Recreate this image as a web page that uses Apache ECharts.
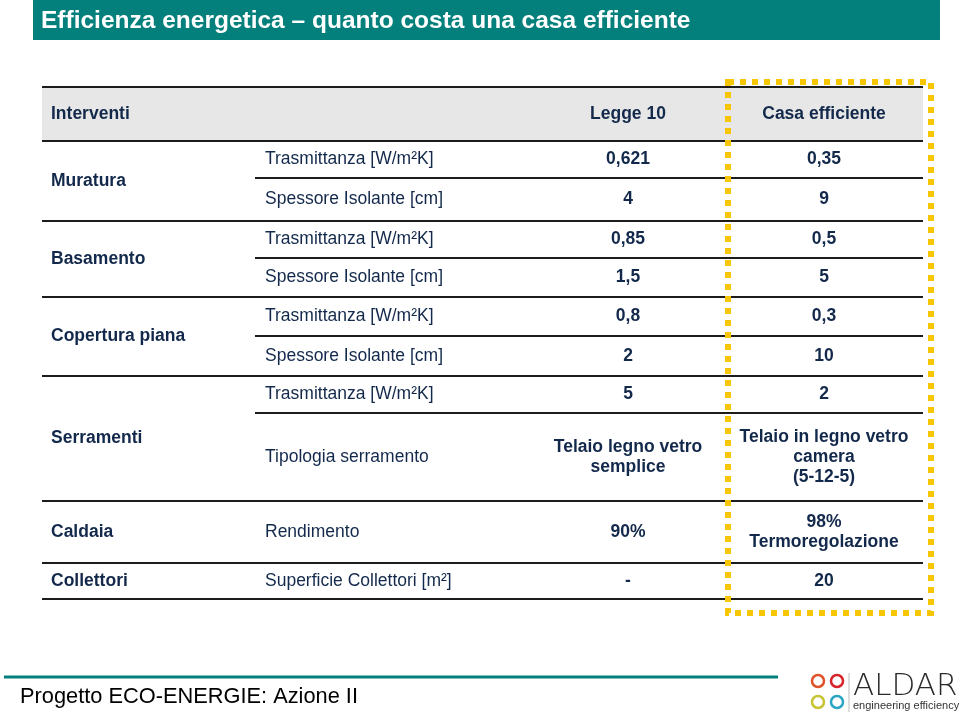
<!DOCTYPE html>
<html><head><meta charset="utf-8">
<script src="https://cdn.jsdelivr.net/npm/echarts@6/dist/echarts.min.js"></script>
<style>html,body{margin:0;padding:0;background:#fff}#c{width:960px;height:714px}</style>
</head><body><div id="c"></div>
<script>
// ---- data ----
const title = 'Efficienza energetica \u2013 quanto costa una casa efficiente';
const headers = ['Interventi', 'Legge 10', 'Casa efficiente'];
const groups = ['Muratura', 'Basamento', 'Copertura piana', 'Serramenti', 'Caldaia', 'Collettori'];
const groupSpan = [2, 2, 2, 2, 1, 1];
const params = [
  'Trasmittanza [W/m\u00B2K]', 'Spessore Isolante [cm]',
  'Trasmittanza [W/m\u00B2K]', 'Spessore Isolante [cm]',
  'Trasmittanza [W/m\u00B2K]', 'Spessore Isolante [cm]',
  'Trasmittanza [W/m\u00B2K]', 'Tipologia serramento',
  'Rendimento', 'Superficie Collettori [m\u00B2]'
];
const legge10 = ['0,621', '4', '0,85', '1,5', '0,8', '2', '5', 'Telaio legno vetro\nsemplice', '90%', '-'];
const casaEfficiente = ['0,35', '9', '0,5', '5', '0,3', '10', '2', 'Telaio in legno vetro\ncamera\n(5-12-5)', '98%\nTermoregolazione', '20'];
const footer = 'Progetto ECO-ENERGIE: Azione II';
const logoName = 'ALDAR';
const logoTag = 'engineering efficiency';

// ---- layout ----
const TEAL = '#03807b', NAVY = '#13294b', LINE = '#1c1c1c';
const X0 = 42, X1 = 923, XSUB = 255;
const colX = {group: 51, param: 265, legge: 628, casa: 824};
const headTop = 87, headBot = 141;
const rowY = [141, 178, 221, 258, 297, 336, 376, 413, 501, 563, 599];
const FS = 17.5, FF = '"Liberation Sans", Arial, sans-serif';

const els = [];
// title bar
els.push({type: 'rect', shape: {x: 33, y: 0, width: 907, height: 40}, style: {fill: TEAL}});
els.push({type: 'text', style: {text: title, x: 41, y: 21, fill: '#fff', fontSize: 24.5, fontWeight: 'bold', fontFamily: FF, textAlign: 'left', textVerticalAlign: 'middle'}});

// header band
els.push({type: 'rect', shape: {x: X0, y: headTop, width: X1 - X0, height: headBot - headTop}, style: {fill: '#e7e7e7'}});
const hy = (headTop + headBot) / 2;
els.push({type: 'text', style: {text: headers[0], x: colX.group, y: hy, fill: NAVY, fontSize: FS, fontWeight: 'bold', fontFamily: FF, textAlign: 'left', textVerticalAlign: 'middle'}});
els.push({type: 'text', style: {text: headers[1], x: colX.legge, y: hy, fill: NAVY, fontSize: FS, fontWeight: 'bold', fontFamily: FF, textAlign: 'center', textVerticalAlign: 'middle'}});
els.push({type: 'text', style: {text: headers[2], x: colX.casa, y: hy, fill: NAVY, fontSize: FS, fontWeight: 'bold', fontFamily: FF, textAlign: 'center', textVerticalAlign: 'middle'}});

function hline(x, y) {
  els.push({type: 'line', shape: {x1: x, y1: y, x2: X1, y2: y}, style: {stroke: LINE, lineWidth: 2}});
}
hline(X0, headTop);
hline(X0, headBot);

// body
let r = 0;
groups.forEach((g, gi) => {
  const span = groupSpan[gi];
  const gTop = rowY[r], gBot = rowY[r + span];
  els.push({type: 'text', style: {text: g, x: colX.group, y: (gTop + gBot) / 2, fill: NAVY, fontSize: FS, fontWeight: 'bold', fontFamily: FF, textAlign: 'left', textVerticalAlign: 'middle'}});
  for (let k = 0; k < span; k++, r++) {
    const yc = (rowY[r] + rowY[r + 1]) / 2;
    els.push({type: 'text', style: {text: params[r], x: colX.param, y: yc, fill: NAVY, fontSize: FS, fontFamily: FF, textAlign: 'left', textVerticalAlign: 'middle'}});
    els.push({type: 'text', style: {text: legge10[r], x: colX.legge, y: yc, fill: NAVY, fontSize: FS, fontWeight: 'bold', lineHeight: 20, fontFamily: FF, textAlign: 'center', textVerticalAlign: 'middle'}});
    els.push({type: 'text', style: {text: casaEfficiente[r], x: colX.casa, y: yc, fill: NAVY, fontSize: FS, fontWeight: 'bold', lineHeight: 20, fontFamily: FF, textAlign: 'center', textVerticalAlign: 'middle'}});
    hline(k === span - 1 ? X0 : XSUB, rowY[r + 1]);
  }
});

// yellow dotted highlight
els.push({type: 'rect', shape: {x: 728, y: 82, width: 203, height: 531}, style: {fill: 'none', stroke: '#f7c600', lineWidth: 6, lineDash: [6, 6], lineCap: 'butt'}, z: 10});

// footer
els.push({type: 'line', shape: {x1: 4, y1: 677, x2: 778, y2: 677}, style: {stroke: TEAL, lineWidth: 3}});
els.push({type: 'text', style: {text: footer, x: 20, y: 697, fill: '#000', fontSize: 21.8, fontFamily: FF, textAlign: 'left', textVerticalAlign: 'middle'}});

// logo
const rings = [[818, 681, '#e0522a'], [837, 681, '#d8232a'], [818, 702, '#c7c433'], [837, 702, '#2aa6c4']];
rings.forEach(([cx, cy, c]) => {
  els.push({type: 'circle', shape: {cx: cx, cy: cy, r: 6}, style: {fill: 'none', stroke: c, lineWidth: 2.5}});
});
els.push({type: 'line', shape: {x1: 849, y1: 673, x2: 849, y2: 712}, style: {stroke: '#bbb', lineWidth: 1}});
els.push({type: 'text', style: {text: logoName, x: 853, y: 687, fill: '#2b2b2b', fontSize: 31, fontWeight: 200, fontFamily: '"DejaVu Sans", sans-serif', textAlign: 'left', textVerticalAlign: 'middle'}});
els.push({type: 'text', style: {text: logoTag, x: 853, y: 706, fill: '#333', fontSize: 11, fontFamily: FF, textAlign: 'left', textVerticalAlign: 'middle'}});

const chart = echarts.init(document.getElementById('c'), null, {renderer: 'canvas'});
chart.setOption({animation: false, backgroundColor: '#fff', graphic: {elements: els}});
</script></body></html>
